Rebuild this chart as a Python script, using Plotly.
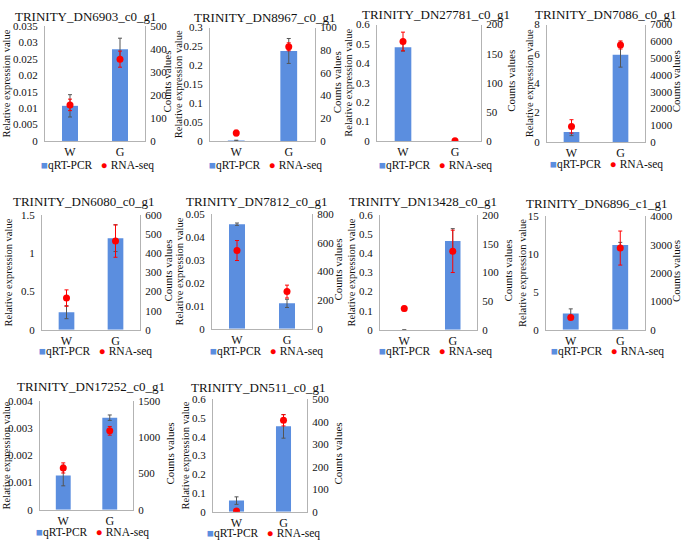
import plotly.graph_objects as go

# ---------------- data ----------------
genes = [
    "TRINITY_DN6903_c0_g1", "TRINITY_DN8967_c0_g1", "TRINITY_DN27781_c0_g1", "TRINITY_DN7086_c0_g1",
    "TRINITY_DN6080_c0_g1", "TRINITY_DN7812_c0_g1", "TRINITY_DN13428_c0_g1", "TRINITY_DN6896_c1_g1",
    "TRINITY_DN17252_c0_g1", "TRINITY_DN511_c0_g1",
]
categories = ["W", "G"]
qpcr_values = [
    [0.0107, 0.0279], [0.001, 0.238], [0.483, 0.0], [0.68, 5.95],
    [0.23, 1.2], [0.0457, 0.0111], [0.0, 0.465], [2.16, 11.2],
    [0.00126, 0.00339], [0.059, 0.455],
]
qpcr_errors = [
    [0.0034, 0.0034], [0.001, 0.033], [0.02, 0.0], [0.25, 0.85],
    [0.085, 0.175], [0.0005, 0.0018], [0.0, 0.065], [0.6, 0.35],
    [0.00038, 0.0001], [0.02, 0.063],
]
rnaseq_values = [
    [157, 356], [7, 83], [171, 0.5], [926, 5785],
    [166, 465], [547, 260], [37, 137], [430, 2880],
    [577, 1090], [3, 406],
]
rnaseq_errors = [
    [25, 35], [2.5, 3.5], [16, 0], [400, 240],
    [43, 85], [70, 45], [4, 37], [60, 600],
    [70, 60], [0, 25],
]
left_max = [0.035, 0.3, 0.6, 8, 1.5, 0.05, 0.6, 15, 0.004, 0.6]
left_dtick = [0.005, 0.05, 0.1, 2, 0.5, 0.01, 0.1, 5, 0.001, 0.1]
right_max = [500, 100, 200, 7000, 600, 800, 200, 4000, 1500, 500]
right_dtick = [100, 20, 50, 1000, 100, 200, 50, 1000, 500, 100]

# ---------------- layout (pixel geometry) ----------------
W_PX, H_PX = 685, 547
plot_boxes = [  # x0, x1, ytop, ybottom
    (45, 145, 20.5, 138), (210, 315, 22, 138), (377, 481, 19, 138), (547, 645, 19, 139),
    (42, 140, 214, 331), (212, 312, 213, 330), (380, 477, 214, 331), (546, 645, 215, 331),
    (40, 133, 404, 515), (213, 307, 402, 517),
]
title_pos = [(86, 11), (265, 12), (436, 9), (606, 9),
             (84, 200), (257, 200), (423, 200), (597, 202),
             (91, 389), (258, 390)]
left_title_x = [7, 178, 349, 529, 9, 180, 352, 522, 6, 185]
right_title_x = [167, 337, 511, 676, 168, 338, 508, 676, 170, 338]
legend_pos = [(98, 163), (265, 163), (435, 163), (606, 162),
              (95, 353), (266, 353), (435, 353), (607, 353),
              (92, 538), (263, 539)]

BAR_COLOR = "#5B8EDF"
RED = "#FF0000"
AXIS_COLOR = "#B3B3B3"
TXT = "#111111"
FONT = "Liberation Serif"


def px_x(v):
    return v / W_PX


def px_y(v):
    return 1 - v / H_PX


fig = go.Figure()
layout = dict(
    width=W_PX, height=H_PX, autosize=False,
    margin=dict(l=0, r=0, t=0, b=0),
    paper_bgcolor="white", plot_bgcolor="rgba(0,0,0,0)",
    showlegend=False, font=dict(family=FONT, color=TXT, size=11),
)
annotations = []

for i in range(len(genes)):
    xn = "x" if i == 0 else f"x{i + 1}"
    yl = "y" if i == 0 else f"y{2 * i + 1}"
    yr = f"y{2 * i + 2}"
    xkey = "xaxis" if i == 0 else f"xaxis{i + 1}"
    ylkey = "yaxis" if i == 0 else f"yaxis{2 * i + 1}"
    yrkey = f"yaxis{2 * i + 2}"
    x0, x1, yt, yb = plot_boxes[i]

    layout[xkey] = dict(
        domain=[px_x(x0), px_x(x1)], anchor=yl, type="category",
        categoryorder="array", categoryarray=categories, range=[-0.5, 1.5],
        showline=True, linecolor=AXIS_COLOR, linewidth=1, ticks="",
        showgrid=False, zeroline=False, tickfont=dict(size=12, family=FONT, color=TXT),
        fixedrange=True,
    )
    layout[ylkey] = dict(
        domain=[px_y(yb), px_y(yt)], anchor=xn, range=[0, left_max[i]],
        tick0=0, dtick=left_dtick[i], showline=True, linecolor=AXIS_COLOR, linewidth=1,
        ticks="", showgrid=False, zeroline=False, ticklabelstandoff=4,
        tickfont=dict(size=11, family=FONT, color=TXT), fixedrange=True,
    )
    layout[yrkey] = dict(
        overlaying=yl, side="right", anchor=xn, range=[0, right_max[i]],
        tick0=0, dtick=right_dtick[i], tickformat="d", showline=True,
        linecolor=AXIS_COLOR, linewidth=1, ticks="", showgrid=False, zeroline=False,
        ticklabelstandoff=2, tickfont=dict(size=11, family=FONT, color=TXT), fixedrange=True,
    )

    fig.add_trace(go.Bar(
        x=categories, y=qpcr_values[i], name="qRT-PCR", width=0.32,
        marker=dict(color=BAR_COLOR, line=dict(width=0)),
        error_y=dict(type="data", array=qpcr_errors[i], color="#555555", thickness=1, width=2),
        xaxis=xn, yaxis=yl,
    ))
    fig.add_trace(go.Scatter(
        x=categories, y=rnaseq_values[i], name="RNA-seq", mode="markers",
        marker=dict(color=RED, size=7),
        error_y=dict(type="data", array=rnaseq_errors[i], color=RED, thickness=1, width=2),
        xaxis=xn, yaxis=yr,
    ))

    tx, ty = title_pos[i]
    annotations.append(dict(
        text=genes[i], x=px_x(tx), y=px_y(ty), xref="paper", yref="paper",
        showarrow=False, xanchor="center", yanchor="middle",
        font=dict(size=13, family=FONT, color=TXT),
    ))
    yc = (yt + yb) / 2
    annotations.append(dict(
        text="Relative expression value", x=px_x(left_title_x[i]), y=px_y(yc),
        xref="paper", yref="paper", showarrow=False, textangle=-90,
        xanchor="center", yanchor="middle", font=dict(size=10.5, family=FONT, color=TXT),
    ))
    annotations.append(dict(
        text="Counts values", x=px_x(right_title_x[i]), y=px_y(yc - 2),
        xref="paper", yref="paper", showarrow=False, textangle=-90,
        xanchor="center", yanchor="middle", font=dict(size=11, family=FONT, color=TXT),
    ))
    lx, ly = legend_pos[i]
    annotations.append(dict(
        text=(f"<span style='color:{BAR_COLOR}'>■</span>qRT-PCR   "
              f"<span style='color:{RED}'>●</span> RNA-seq"),
        x=px_x(lx), y=px_y(ly), xref="paper", yref="paper", showarrow=False,
        xanchor="center", yanchor="middle", font=dict(size=11.5, family=FONT, color=TXT),
    ))

layout["annotations"] = annotations
fig.update_layout(**layout)
fig.write_html("out.html", config={"displayModeBar": False, "staticPlot": True},
               post_script="document.body.style.margin='0px';")
